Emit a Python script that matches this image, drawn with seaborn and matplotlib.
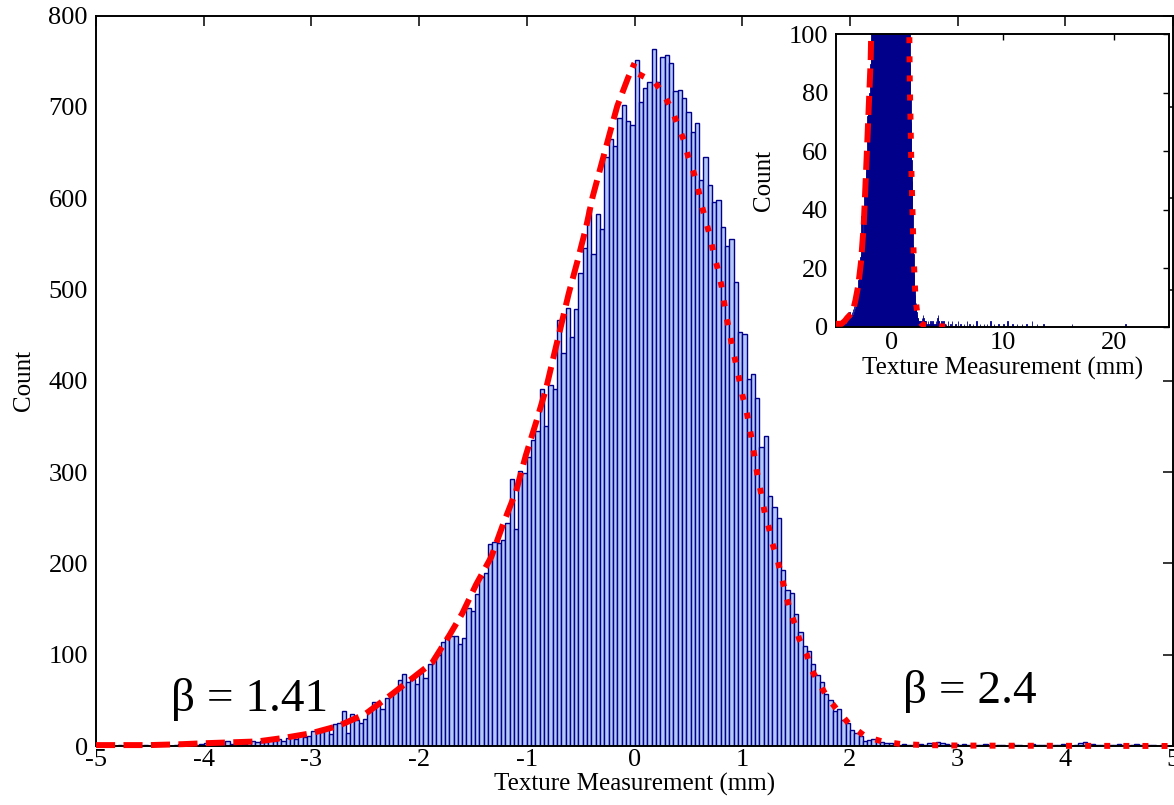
import numpy as np
import pandas as pd
import matplotlib
matplotlib.use("Agg")
import matplotlib.pyplot as plt
import seaborn as sns

# ---------------- data ----------------
bin_width = 0.04
bin_range = (-5, 25)

# counts for bins from -5.00 to 5.00 (250 bins)
counts_far_left = [0, 0, 1, 0, 0, 1, 0, 0, 1, 0, 0, 1, 0, 1, 0, 1, 1, 0, 1, 2, 1, 1, 2, 1, 2,
                   3, 2, 4, 2, 3, 5, 2, 3, 4, 2, 4, 5, 4,
                   6, 4, 7, 5, 8, 6, 9, 11, 8, 12, 10, 11]
counts_left = [16, 18, 15, 20, 13, 24, 25, 38, 14, 35,
               29, 25, 30, 39, 48, 46, 40, 53, 57, 60,
               72, 79, 70, 73, 68, 80, 75, 90, 95, 100,
               114, 118, 121, 121, 112, 118, 151, 148, 166, 185,
               190, 221, 224, 222, 226, 244, 293, 238, 301, 299,
               317, 335, 345, 391, 351, 395, 391, 467, 430, 480,
               448, 479, 518, 546, 588, 539, 583, 566, 645, 665,
               657, 688, 702, 685, 680]
counts_right = [752, 706, 721, 727, 763, 727, 755, 757, 748, 717,
                719, 710, 695, 673, 683, 620, 645, 615, 596, 598,
                568, 548, 555, 508, 454, 451, 402, 408, 381, 327,
                340, 274, 262, 250, 193, 171, 168, 145, 125, 110,
                104, 90, 78, 70, 57, 50, 38, 40, 28, 25,
                18, 14, 11, 6, 7, 8, 5, 4, 3, 3,
                2, 1, 2, 1, 1, 2, 2, 1, 3, 2,
                4, 3, 2, 1, 2]
counts_far_right = [1, 2, 1, 0, 1, 1, 2, 1, 0, 1,
                    1, 0, 2, 1, 1, 0, 1, 2, 1, 1,
                    1, 0, 1, 1, 2, 1, 0, 1, 3, 4,
                    2, 2, 1, 1, 0, 1, 1, 2, 1, 0,
                    1, 2, 1, 0, 1, 1, 0, 1, 0, 0]
# sparse long tail beyond 5 mm (visible only in the inset)
tail_x = [5.06, 5.30, 5.46, 5.74, 5.98, 6.22, 6.50, 6.78, 7.02, 7.34, 7.66, 7.94, 8.30, 8.58,
          8.90, 9.22, 9.62, 10.06, 10.42, 10.90, 11.30, 11.74, 12.14, 12.62, 13.10, 13.66,
          16.22, 21.06, 24.94]
tail_counts = [2, 1, 2, 1, 2, 1, 1, 2, 1, 1, 2, 1, 1, 1, 2, 1, 1, 1, 2, 1, 1, 1, 1, 2, 1, 1,
               1, 1, 1]

# fitted generalized-Gaussian halves
dashed_x = [-5.0, -4.5, -4.2, -4.0, -3.75, -3.5, -3.25, -3.0, -2.75, -2.5, -2.25, -2.0, -1.88,
            -1.72, -1.60, -1.47, -1.33, -1.22, -1.10, -1.01, -0.91, -0.82, -0.75, -0.61, -0.53,
            -0.45, -0.39, -0.31, -0.23, -0.16, -0.06, 0.0]
dashed_y = [1, 1, 2, 3, 4, 5, 9, 14, 22, 35, 57, 80, 91, 121, 145, 177, 207, 243, 279, 318,
            356, 392, 427, 496, 531, 568, 601, 636, 671, 701, 732, 748]
dotted_x = [0.04, 0.19, 0.28, 0.35, 0.41, 0.46, 0.50, 0.55, 0.59, 0.62, 0.66, 0.70, 0.73, 0.77,
            0.81, 0.85, 0.88, 0.91, 0.94, 0.975, 1.00, 1.04, 1.09, 1.14, 1.18, 1.21, 1.25, 1.28,
            1.33, 1.36, 1.44, 1.49, 1.53, 1.60, 1.64, 1.72, 1.79, 1.88, 2.00, 2.15, 2.30, 2.48,
            2.70, 3.00, 3.50, 4.00, 4.50, 5.00]
dotted_y = [736, 727, 712, 696, 678, 663, 645, 628, 611, 594, 576, 559, 542, 524,
            503, 472, 455, 436, 420, 400, 385, 367, 335, 298, 274, 255, 238, 222,
            203, 188, 150, 133, 117, 100, 84, 68, 53, 40, 23, 10, 5, 2,
            1, 0.5, 0.3, 0.2, 0.1, 0]

beta_labels = ["β = 1.41", "β = 2.4"]
beta_pos = [(-3.57, 51), (3.11, 60)]

main_xticks = [-5, -4, -3, -2, -1, 0, 1, 2, 3, 4, 5]
main_yticks = [0, 100, 200, 300, 400, 500, 600, 700, 800]
inset_xticks = [0, 10, 20]
inset_yticks = [0, 20, 40, 60, 80, 100]
xlabel = "Texture Measurement (mm)"
ylabel = "Count"

# ---------------- style ----------------
sns.set_style("white")
plt.rcParams["font.family"] = ["Liberation Serif", "DejaVu Serif"]
plt.rcParams["axes.unicode_minus"] = False
plt.rcParams["text.color"] = "black"
plt.rcParams["axes.labelcolor"] = "black"
plt.rcParams["xtick.color"] = "black"
plt.rcParams["ytick.color"] = "black"

main_counts = counts_far_left + counts_left + counts_right + counts_far_right
centers = [bin_range[0] + bin_width * (i + 0.5) for i in range(len(main_counts))]
df = pd.DataFrame({"x": centers + tail_x,
                   "w": [float(v) for v in main_counts + tail_counts]})

fig = plt.figure(figsize=(11.74, 8.05), dpi=100)
ax = fig.add_axes([96 / 1174, 1 - 746 / 805, 1077 / 1174, (746 - 15.7) / 805])

face = "#b4c8f5"
edge = "#00008b"

sns.histplot(data=df, x="x", weights="w", binwidth=bin_width, binrange=bin_range, ax=ax,
             color=face, edgecolor=edge, linewidth=1.0, alpha=1)

lw_fit = 4.3
dash_style = (3.2, 1.4)
dot_style = (1.0, 2.2)
ax.plot(dashed_x, dashed_y, color="#ff0000", lw=lw_fit, dashes=dash_style, clip_on=False, zorder=5)
ax.plot(dotted_x, dotted_y, color="#ff0000", lw=lw_fit, dashes=dot_style, clip_on=False, zorder=5)

for lab, (tx, ty) in zip(beta_labels, beta_pos):
    ax.text(tx, ty, lab, fontsize=34, ha="center", va="center", color="black")

ax.set_xlim(-5, 5)
ax.set_ylim(0, 800)
ax.set_xticks(main_xticks)
ax.set_xticklabels([str(t) for t in main_xticks])
ax.set_yticks(main_yticks)
ax.set_xlabel(xlabel, fontsize=18, labelpad=1)
ax.set_ylabel(ylabel, fontsize=18, labelpad=10)
ax.tick_params(axis="both", which="both", direction="in", length=7, width=1.1,
               top=True, right=True, labelsize=19, color="black", labelcolor="black")
ax.tick_params(axis="x", pad=2.5)
ax.tick_params(axis="y", pad=5.8)
for s in ax.spines.values():
    s.set_visible(True)
    s.set_color("black")
    s.set_linewidth(1.4)

# ---------------- inset ----------------
ins = fig.add_axes([836 / 1174, 1 - 326.7 / 805, 333.3 / 1174, 292.4 / 805])
ins.set_facecolor("white")
sns.histplot(data=df, x="x", weights="w", binwidth=bin_width, binrange=bin_range, ax=ins,
             color="#0a0a90", edgecolor=edge, linewidth=0.6, alpha=1)
ins.plot(dashed_x, dashed_y, color="#ff0000", lw=lw_fit, dashes=dash_style, zorder=5)
ins.plot(dotted_x, dotted_y, color="#ff0000", lw=lw_fit, dashes=dot_style, zorder=5)
ins.set_xlim(-5, 25)
ins.set_ylim(0, 100)
ins.set_xticks(inset_xticks)
ins.set_yticks(inset_yticks)
ins.set_xlabel(xlabel, fontsize=18, labelpad=2)
ins.set_ylabel(ylabel, fontsize=18, labelpad=10)
ins.tick_params(axis="both", which="both", direction="in", length=4.3, width=1.0,
                top=True, right=True, labelsize=19, color="black", labelcolor="black")
ins.tick_params(axis="x", pad=3.8)
ins.tick_params(axis="y", pad=5.8)
for s in ins.spines.values():
    s.set_visible(True)
    s.set_color("black")
    s.set_linewidth(1.4)

fig.savefig("out.png", dpi=100)
